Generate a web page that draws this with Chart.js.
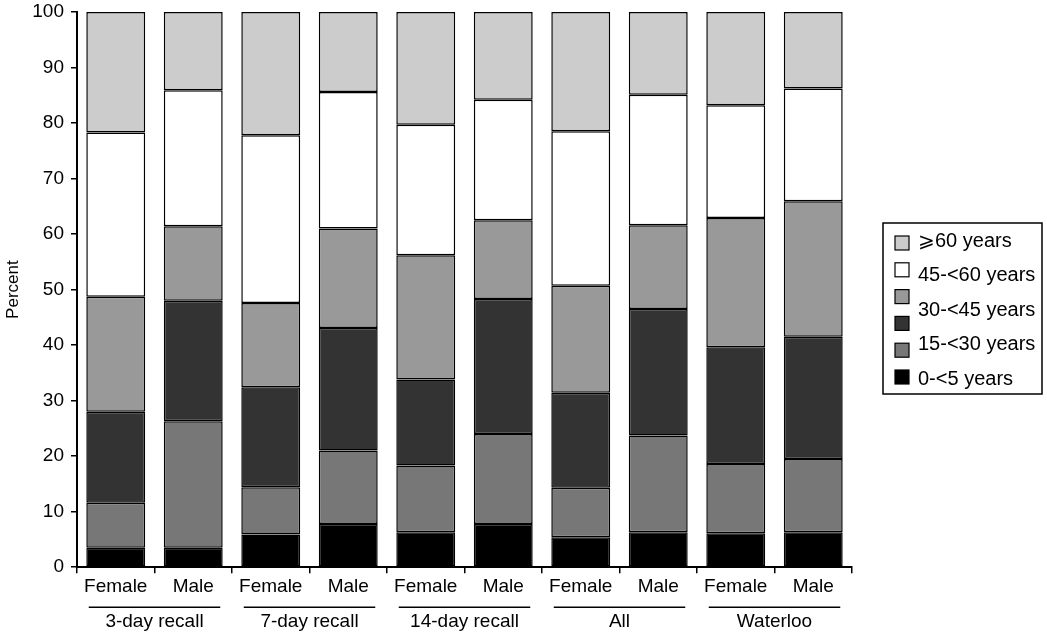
<!DOCTYPE html>
<html>
<head>
<meta charset="utf-8">
<script src="https://cdn.jsdelivr.net/npm/chart.js@4.4.1/dist/chart.umd.min.js"></script>
<style>
  html, body { margin: 0; padding: 0; background: #fff; }
</style>
</head>
<body>
<canvas id="chart" width="1047" height="638"></canvas>
<script>
// categories and groups
const categories = ['Female', 'Male', 'Female', 'Male', 'Female', 'Male', 'Female', 'Male', 'Female', 'Male'];
const groups = ['3-day recall', '7-day recall', '14-day recall', 'All', 'Waterloo'];

// series (percent of each bar, bottom to top)
const age0to5   = [3.5, 3.5, 5.9, 7.8, 6.3, 7.8, 5.4, 6.3, 6.1, 6.3];
const age15to30 = [8.1, 22.8, 8.5, 13.2, 12.0, 16.2, 8.9, 17.4, 12.5, 13.2];
const ageDark   = [16.4, 21.7, 18.0, 22.1, 15.5, 24.3, 17.1, 22.8, 21.0, 22.0];
const age30to45 = [20.7, 13.4, 15.2, 17.9, 22.4, 14.2, 19.3, 15.1, 23.3, 24.4];
const age45to60 = [29.6, 24.5, 30.2, 24.6, 23.5, 21.7, 27.8, 23.5, 20.3, 20.3];
const age60plus = [21.7, 14.1, 22.2, 14.4, 20.3, 15.8, 21.5, 14.9, 16.8, 13.8];

const yTicks = [0, 10, 20, 30, 40, 50, 60, 70, 80, 90, 100];

const FONT = '"Liberation Sans", Arial, Helvetica, sans-serif';

// group labels with a line above them under each pair of bars
const groupLabels = {
    id: 'groupLabels',
    afterDraw(chart) {
        const ctx = chart.ctx;
        const x = chart.scales.x;
        const base = chart.chartArea.bottom;
        ctx.save();
        ctx.strokeStyle = '#000';
        ctx.lineWidth = 1.5;
        ctx.fillStyle = '#000';
        ctx.font = '19px ' + FONT;
        ctx.textAlign = 'center';
        ctx.textBaseline = 'middle';
        groups.forEach((g, i) => {
            const a = x.getPixelForValue(i * 2);
            const b = x.getPixelForValue(i * 2 + 1);
            ctx.beginPath();
            ctx.moveTo(a - 27, base + 40);
            ctx.lineTo(b + 27, base + 40);
            ctx.stroke();
            ctx.fillText(g, (a + b) / 2, base + 55);
        });
        ctx.restore();
    }
};

// boxed legend at the right, top item = top segment
const boxLegend = {
    id: 'boxLegend',
    afterDraw(chart) {
        const ctx = chart.ctx;
        const sets = chart.data.datasets.slice().reverse();
        const left = 883, top = 223, right = 1042, bottom = 394;
        ctx.save();
        ctx.strokeStyle = '#000';
        ctx.lineWidth = 1.5;
        ctx.strokeRect(left, top, right - left, bottom - top);

        // swatches
        const sTop = 243, sBot = 377;
        sets.forEach((ds, i) => {
            const cy = sTop + i * (sBot - sTop) / (sets.length - 1);
            ctx.fillStyle = ds.backgroundColor;
            ctx.fillRect(895, cy - 7, 14, 14);
            ctx.lineWidth = 1.2;
            ctx.strokeRect(895, cy - 7, 14, 14);
        });

        // labels
        const labelled = sets.filter(ds => ds.label);
        const tTop = 241, tBot = 379;
        ctx.fillStyle = '#000';
        ctx.font = '20px ' + FONT;
        ctx.textAlign = 'left';
        ctx.textBaseline = 'middle';
        labelled.forEach((ds, i) => {
            const cy = tTop + i * (tBot - tTop) / (labelled.length - 1);
            ctx.fillText(ds.label, 918, cy);
        });
        ctx.restore();
    }
};

const ctx = document.getElementById('chart').getContext('2d');

const mk = (label, data, color) => ({
    label: label,
    data: data,
    backgroundColor: color,
    borderColor: '#000',
    borderWidth: 1.5,
    borderSkipped: false,
    barPercentage: 0.76,
    categoryPercentage: 1.0
});

new Chart(ctx, {
    type: 'bar',
    data: {
        labels: categories,
        datasets: [
            mk('0-<5 years', age0to5, '#000000'),
            mk('15-<30 years', age15to30, '#777777'),
            mk('', ageDark, '#333333'),
            mk('30-<45 years', age30to45, '#999999'),
            mk('45-<60 years', age45to60, '#ffffff'),
            mk('\u2a7e60 years', age60plus, '#cccccc')
        ]
    },
    options: {
        responsive: false,
        animation: false,
        layout: {
            padding: { left: 3, right: 195, top: 12, bottom: 38 }
        },
        plugins: {
            legend: { display: false },
            tooltip: { enabled: false }
        },
        scales: {
            x: {
                stacked: true,
                grid: {
                    offset: true,
                    drawOnChartArea: false,
                    drawTicks: true,
                    tickLength: 6,
                    color: '#000',
                    lineWidth: 1.5
                },
                border: { color: '#000', width: 2 },
                ticks: {
                    color: '#000',
                    padding: 2,
                    font: { family: FONT, size: 19 },
                    maxRotation: 0
                }
            },
            y: {
                stacked: true,
                min: 0,
                max: 100,
                afterFit(scale) {
                    scale.width = 74;
                    scale.paddingTop = 0;
                },
                afterBuildTicks(scale) { scale.ticks = yTicks.map(v => ({ value: v })); },
                grid: {
                    drawOnChartArea: false,
                    drawTicks: true,
                    tickLength: 6,
                    color: '#000',
                    lineWidth: 1.5
                },
                border: { color: '#000', width: 2 },
                ticks: {
                    color: '#000',
                    padding: 7,
                    font: { family: FONT, size: 19 }
                },
                title: {
                    display: true,
                    text: 'Percent',
                    color: '#000',
                    padding: 0,
                    font: { family: FONT, size: 17 }
                }
            }
        }
    },
    plugins: [groupLabels, boxLegend]
});
</script>
</body>
</html>
